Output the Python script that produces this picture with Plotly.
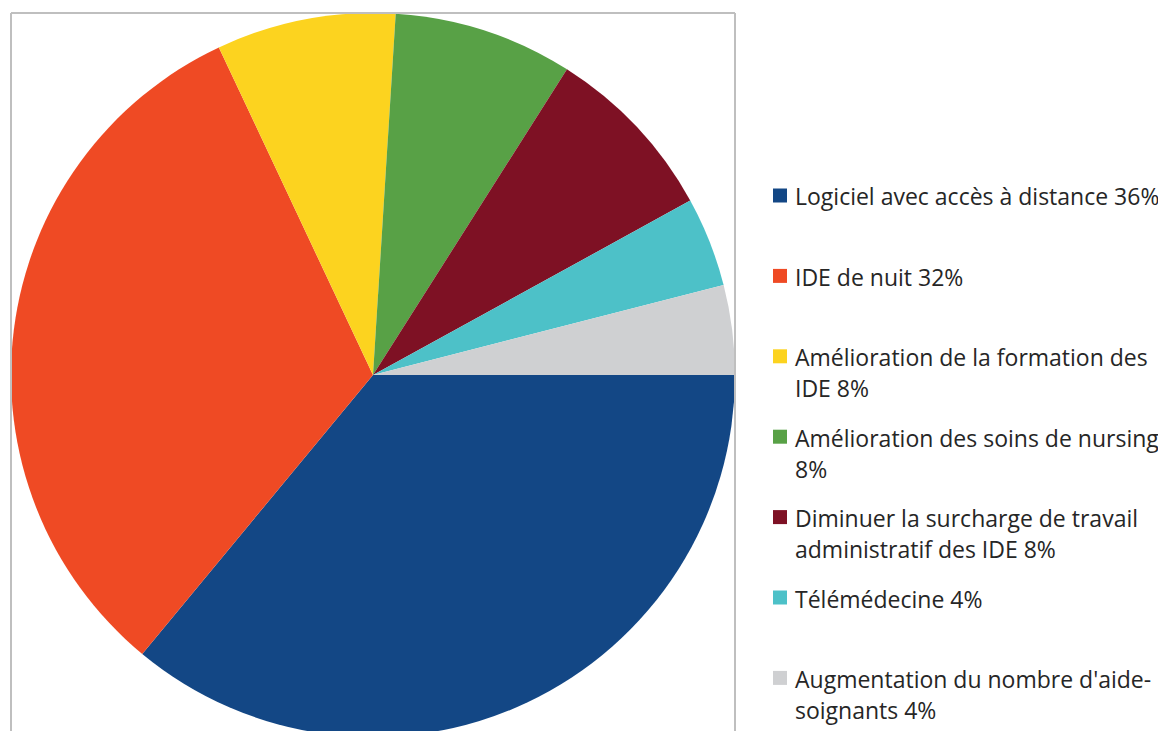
"""Camembert : propositions d'amélioration (légende à droite)."""

import plotly.graph_objects as go

W, H = 1166, 731
OFF = 8  # marge par défaut du <body> dans la page générée

categories = [
    "Logiciel avec accès à distance",
    "IDE de nuit",
    "Amélioration de la formation des IDE",
    "Amélioration des soins de nursing",
    "Diminuer la surcharge de travail administratif des IDE",
    "Télémédecine",
    "Augmentation du nombre d'aide-soignants",
]
values = [36, 32, 8, 8, 8, 4, 4]
legend_lines = [
    ["Logiciel avec accès à distance 36%"],
    ["IDE de nuit 32%"],
    ["Amélioration de la formation des", "IDE 8%"],
    ["Amélioration des soins de nursing", "8%"],
    ["Diminuer la surcharge de travail", "administratif des IDE 8%"],
    ["Télémédecine 4%"],
    ["Augmentation du nombre d'aide-", "soignants 4%"],
]
colors = ["#134785", "#EF4A24", "#FCD31F", "#58A146", "#7E1124", "#4DC1C8", "#CFD0D2"]

FONT = "Open Sans"
TEXT_COLOR = "#262626"


def px(x):
    return (x - OFF) / W


def py(y):
    return 1 - (y - OFF) / H


fig = go.Figure()
fig.add_trace(go.Pie(
    labels=categories, values=values, sort=False,
    direction="clockwise", rotation=90,
    marker=dict(colors=colors, line=dict(width=0)),
    textinfo="none", hoverinfo="label+percent",
    domain=dict(x=[px(11), px(735)], y=[py(737), py(13)]),
    showlegend=False,
))

# cadre gris autour de la zone du graphique
shapes = [
    dict(type="line", xref="paper", yref="paper",
         x0=px(11), x1=px(11), y0=py(13), y1=py(745), line=dict(color="#BFBFBF", width=2)),
    dict(type="line", xref="paper", yref="paper",
         x0=px(11), x1=px(735), y0=py(13), y1=py(13), line=dict(color="#BFBFBF", width=2)),
    dict(type="line", xref="paper", yref="paper",
         x0=px(735), x1=px(735), y0=py(13), y1=py(745), line=dict(color="#BFBFBF", width=2)),
]

# légende faite à la main : espacement régulier comme dans l'original
annotations = []
y_start, step, line_gap = 195.5, 80.4, 31
for i, (lines, color) in enumerate(zip(legend_lines, colors)):
    yc = y_start + i * step
    shapes.append(dict(
        type="rect", xref="paper", yref="paper",
        x0=px(773), x1=px(787), y0=py(yc + 7), y1=py(yc - 7),
        fillcolor=color, line=dict(width=0),
    ))
    for j, txt in enumerate(lines):
        annotations.append(dict(
            x=px(793), y=py(yc + 1 + j * line_gap), xref="paper", yref="paper",
            text=txt, showarrow=False, xanchor="left", yanchor="middle",
            font=dict(family=FONT, size=23, color=TEXT_COLOR),
        ))

fig.update_layout(
    width=W, height=H,
    margin=dict(l=0, r=0, t=0, b=0),
    paper_bgcolor="white", plot_bgcolor="white",
    shapes=shapes, annotations=annotations,
    showlegend=False,
)
fig.write_html("out.html")
